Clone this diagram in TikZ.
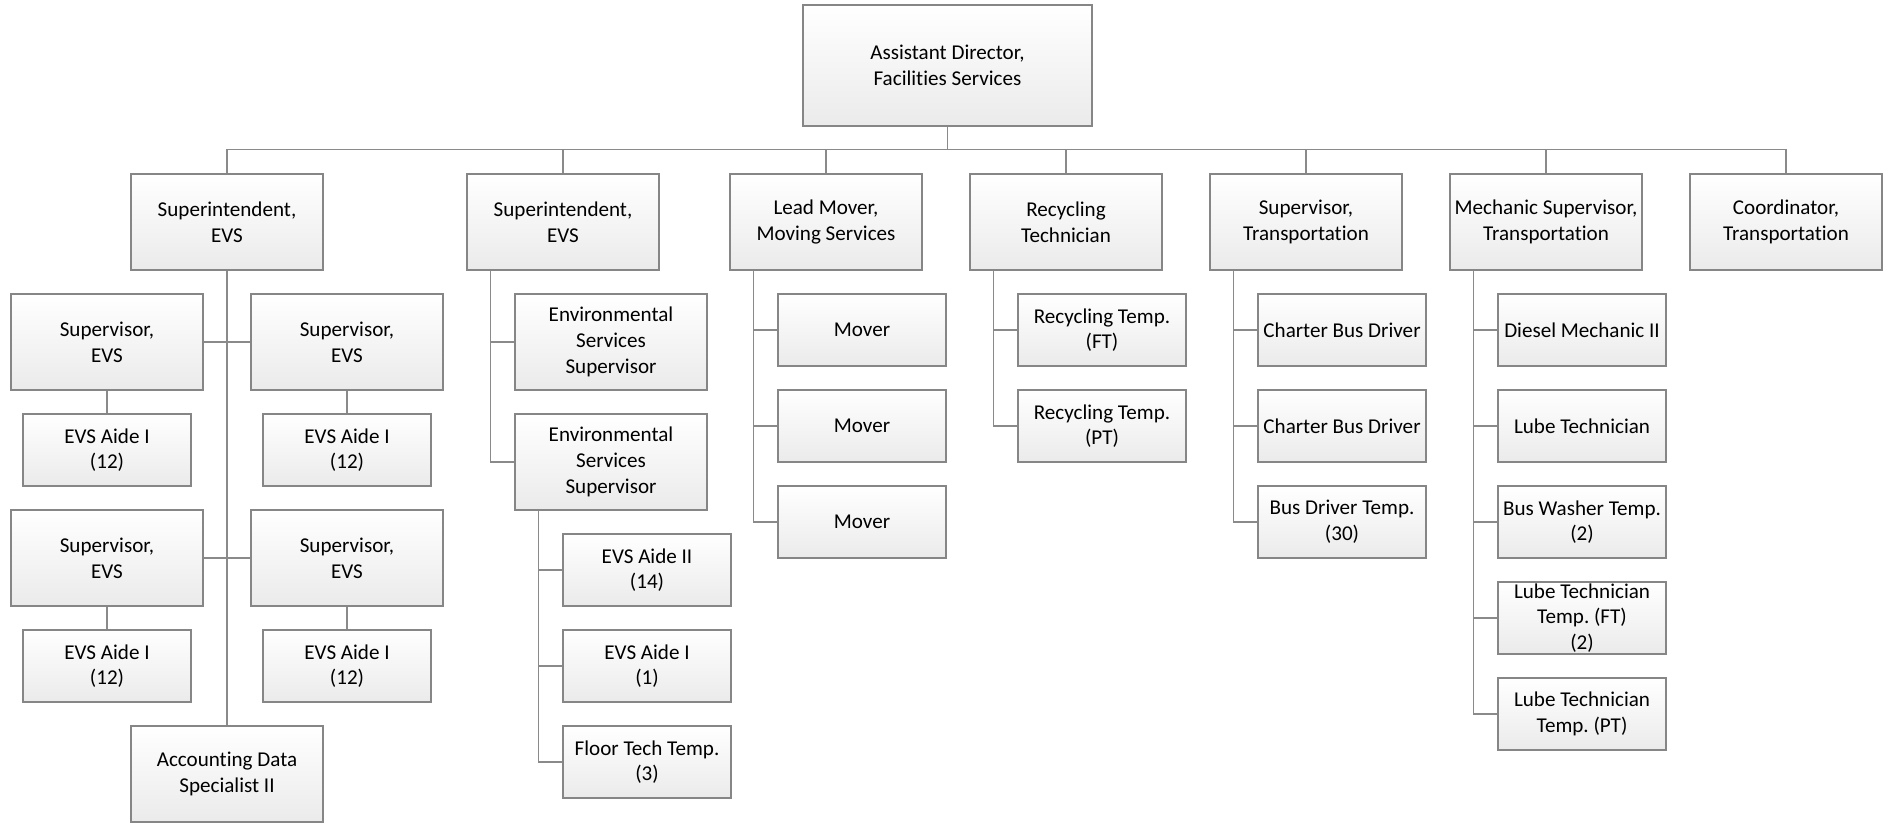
\documentclass[tikz,border=0pt]{standalone}
\usepackage{fontspec}
\setmainfont{Carlito}[Ligatures={NoCommon}]
\usepackage{tikz}
\usetikzlibrary{shapes, arrows.meta}
\definecolor{boxgray}{HTML}{868686}
\definecolor{linegray}{HTML}{8A8A8A}
\frenchspacing

\begin{document}
\begin{tikzpicture}[
    box/.style={draw=boxgray, line width=0.8pt, top color=white, bottom color=black!8,
        align=center, minimum width=3.84cm, minimum height=1.92cm, inner sep=0pt,
        font=\fontsize{12}{14.6}\selectfont},
    leaf/.style={box, minimum width=3.36cm, minimum height=1.44cm},
    conn/.style={draw=linegray, line width=0.8pt}
]
            \useasboundingbox (0, 0) rectangle (37.74, -16.46);

            % top
            \node[box, minimum width=5.78cm, minimum height=2.42cm] (dir) at (18.95, -1.31) {Assistant Director,\\Facilities Services};

            % first level
            \node[box] (sup1) at (4.54, -4.44) {Superintendent,\\EVS};
            \node[box] (sup2) at (11.26, -4.44) {Superintendent,\\EVS};
            \node[box] (lead) at (16.52, -4.44) {Lead Mover,\\Moving Services};
            \node[box] (recy) at (21.32, -4.44) {Recycling\\Technician};
            \node[box] (stran) at (26.12, -4.44) {Supervisor,\\Transportation};
            \node[box] (mech) at (30.92, -4.44) {Mechanic Supervisor,\\Transportation};
            \node[box] (coord) at (35.72, -4.44) {Coordinator,\\Transportation};

            % superintendent 1
            \node[box] (sv1) at (2.14, -6.84) {Supervisor,\\EVS};
            \node[box] (sv2) at (6.94, -6.84) {Supervisor,\\EVS};
            \node[leaf] (aide1) at (2.14, -9.0) {EVS Aide I\\(12)};
            \node[leaf] (aide2) at (6.94, -9.0) {EVS Aide I\\(12)};
            \node[box] (sv3) at (2.14, -11.16) {Supervisor,\\EVS};
            \node[box] (sv4) at (6.94, -11.16) {Supervisor,\\EVS};
            \node[leaf] (aide3) at (2.14, -13.32) {EVS Aide I\\(12)};
            \node[leaf] (aide4) at (6.94, -13.32) {EVS Aide I\\(12)};
            \node[box] (acct) at (4.54, -15.48) {Accounting Data\\Specialist II};

            % superintendent 2
            \node[box] (ess1) at (12.22, -6.84) {Environmental\\Services\\Supervisor};
            \node[box] (ess2) at (12.22, -9.24) {Environmental\\Services\\Supervisor};
            \node[leaf] (aideii) at (12.94, -11.4) {EVS Aide II\\(14)};
            \node[leaf] (aidei) at (12.94, -13.32) {EVS Aide I\\(1)};
            \node[leaf] (floor) at (12.94, -15.24) {Floor Tech Temp.\\(3)};

            % moving services
            \node[leaf] (mv1) at (17.24, -6.6) {Mover};
            \node[leaf] (mv2) at (17.24, -8.52) {Mover};
            \node[leaf] (mv3) at (17.24, -10.44) {Mover};

            % recycling
            \node[leaf] (rt1) at (22.04, -6.6) {Recycling Temp.\\(FT)};
            \node[leaf] (rt2) at (22.04, -8.52) {Recycling Temp.\\(PT)};

            % transportation
            \node[leaf] (cbd1) at (26.84, -6.6) {Charter Bus Driver};
            \node[leaf] (cbd2) at (26.84, -8.52) {Charter Bus Driver};
            \node[leaf] (bdt) at (26.84, -10.44) {Bus Driver Temp.\\(30)};

            % mechanic
            \node[leaf] (dm) at (31.64, -6.6) {Diesel Mechanic II};
            \node[leaf] (lt) at (31.64, -8.52) {Lube Technician};
            \node[leaf] (bw) at (31.64, -10.44) {Bus Washer Temp.\\(2)};
            \node[leaf] (ltft) at (31.64, -12.36) {Lube Technician\\Temp. (FT)\\(2)};
            \node[leaf] (ltpt) at (31.64, -14.28) {Lube Technician\\Temp. (PT)};

            % connectors
            \foreach \n in {sup1, sup2, lead, recy, stran, mech, coord}
                \draw[conn] (\n.north) -- ++(0, 0.48) -| (dir.south);

            \draw[conn] (sup1.south) -- (acct.north);
            \draw[conn] (sv1.east) -- (sv2.west);
            \draw[conn] (sv3.east) -- (sv4.west);
            \draw[conn] (sv1) -- (aide1);
            \draw[conn] (sv2) -- (aide2);
            \draw[conn] (sv3) -- (aide3);
            \draw[conn] (sv4) -- (aide4);

            \foreach \n in {ess1, ess2}
                \draw[conn] ([xshift=0.48cm]sup2.south west) |- (\n.west);
            \foreach \n in {aideii, aidei, floor}
                \draw[conn] ([xshift=0.48cm]ess2.south west) |- (\n.west);
            \foreach \n in {mv1, mv2, mv3}
                \draw[conn] ([xshift=0.48cm]lead.south west) |- (\n.west);
            \foreach \n in {rt1, rt2}
                \draw[conn] ([xshift=0.48cm]recy.south west) |- (\n.west);
            \foreach \n in {cbd1, cbd2, bdt}
                \draw[conn] ([xshift=0.48cm]stran.south west) |- (\n.west);
            \foreach \n in {dm, lt, bw, ltft, ltpt}
                \draw[conn] ([xshift=0.48cm]mech.south west) |- (\n.west);
    	\end{tikzpicture}
\end{document}
